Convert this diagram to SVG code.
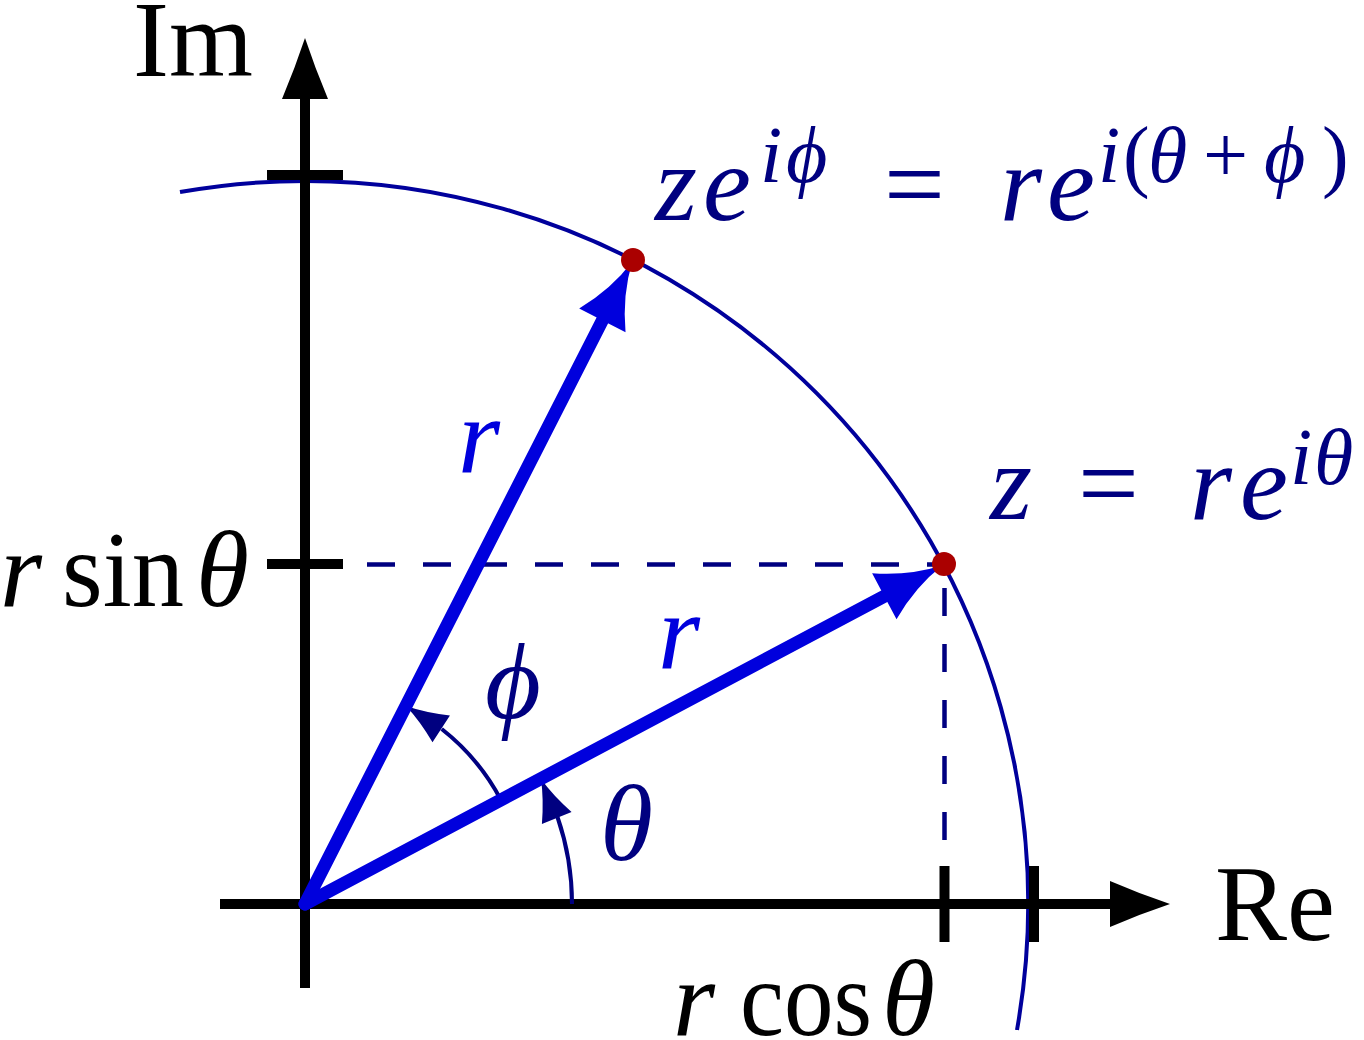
<svg xmlns="http://www.w3.org/2000/svg" width="1364" height="1040" viewBox="0 0 1364 1040">
<style>
.ax{stroke:#000;stroke-width:10;fill:none}
.axh{fill:#000}
.vec{stroke:#0000dd;stroke-width:13;fill:none;stroke-linecap:round}
.vech{fill:#0000dd}
.ang{stroke:#000080;stroke-width:4;fill:none}
.angh{fill:#000080}
.dash{stroke:#000080;stroke-width:4.5;stroke-dasharray:28 28;fill:none}
.circ{stroke:#00009c;stroke-width:4;fill:none}
.dot{fill:#aa0000}
.t{font-family:"Liberation Serif",serif;font-size:108px;fill:#000}
.m{font-family:"Liberation Serif",serif;font-style:italic;font-size:108px;fill:#000080}
.blue{fill:#0000dd}
.blk{fill:#000}
.u{font-style:normal}
.s{font-size:80px}
</style>
<defs>
<path id="vhead" d="M0,0 Q-34,-6 -66,-26 L-66,26 Q-34,6 0,0 Z"/>
<path id="ahead" d="M0,0 Q-20,-5 -42,-16 L-42,16 Q-20,5 0,0 Z"/>
</defs>

<g id="connectors">
  <path class="circ" d="M180,192 A723,723 0 0 1 1017,1030"/>
  <line class="dash" x1="367" y1="564.5" x2="944" y2="564.5"/>
  <line class="dash" x1="944.5" y1="564" x2="944.5" y2="905" style="stroke-dashoffset:32"/>
  <line class="ax" x1="220" y1="904" x2="1112" y2="904"/>
  <path class="axh" d="M1170,904 Q1140,894 1110,881 L1110,927 Q1140,914 1170,904 Z"/>
  <line class="ax" x1="305" y1="988" x2="305" y2="97"/>
  <path class="axh" d="M305,38 Q295,68 282,99 L328,99 Q315,68 305,38 Z"/>
  <line class="ax" x1="267" y1="175" x2="343" y2="175"/>
  <line class="ax" x1="267" y1="564" x2="343" y2="564"/>
  <line class="ax" x1="944.5" y1="866" x2="944.5" y2="942"/>
  <line class="ax" x1="1034" y1="866" x2="1034" y2="942"/>
  <path class="ang" d="M572,904 A267,267 0 0 0 557.5,817"/>
  <use href="#ahead" class="angh" transform="translate(541,779) rotate(-112)"/>
  <path class="ang" d="M501,800 A222,222 0 0 0 441.7,729"/>
  <use href="#ahead" class="angh" transform="translate(406,706) rotate(-147)"/>
  <g transform="translate(305,904) rotate(-27.98)">
    <line class="vec" x1="0" y1="0" x2="664" y2="0"/>
    <use href="#vhead" class="vech" transform="translate(722,0)"/>
  </g>
  <g transform="translate(305,904) rotate(-63)">
    <line class="vec" x1="0" y1="0" x2="662" y2="0"/>
    <use href="#vhead" class="vech" transform="translate(721,0)"/>
  </g>
</g>

<g id="point-z">
  <circle class="dot" cx="944" cy="564" r="12"/>
  <text class="m" y="519"><tspan x="990">z</tspan><tspan class="u" x="1078">=</tspan><tspan x="1190">r</tspan><tspan x="1240">e</tspan><tspan class="s" x="1290" y="484">i</tspan><tspan class="s" x="1314" y="484">θ</tspan></text>
</g>

<g id="point-zphi">
  <circle class="dot" cx="633" cy="260" r="12"/>
  <text class="m" y="220"><tspan x="655">z</tspan><tspan x="703">e</tspan><tspan class="s" x="760" y="182">i</tspan><tspan class="s" x="786" y="182">ϕ</tspan><tspan class="u" x="884" y="220">=</tspan><tspan x="1000" y="220">r</tspan><tspan x="1047" y="220">e</tspan><tspan class="s" x="1098" y="182">i</tspan><tspan class="s u" x="1123" y="182">(</tspan><tspan class="s" x="1148" y="182">θ</tspan><tspan class="s u" x="1203" y="182">+</tspan><tspan class="s" x="1264" y="182">ϕ</tspan><tspan class="s u" x="1322" y="182">)</tspan></text>
</g>

<g id="axis-labels">
  <text class="t" x="133" y="76">Im</text>
  <text class="t" x="1215" y="940">Re</text>
</g>

<g id="tick-labels">
  <text class="m blk" x="0" y="606">r</text>
  <text class="t" x="62" y="606" textLength="122" lengthAdjust="spacingAndGlyphs">sin</text>
  <text class="m blk" x="196" y="606">θ</text>
  <text class="m blk" x="673" y="1035">r</text>
  <text class="t" x="740" y="1035" textLength="132" lengthAdjust="spacingAndGlyphs">cos</text>
  <text class="m blk" x="882" y="1035">θ</text>
</g>

<g id="vector-labels">
  <text class="m blue" x="458" y="472">r</text>
  <text class="m blue" x="658" y="668">r</text>
  <text class="m" x="485" y="718">ϕ</text>
  <text class="m" x="600" y="860">θ</text>
</g>
</svg>
